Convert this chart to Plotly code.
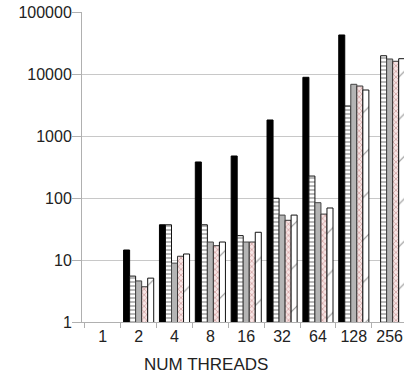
import plotly.graph_objects as go

categories = ["1", "2", "4", "8", "16", "32", "64", "128", "256"]
series_black = [None, 14.5, 37, 381, 476, 1812, 8850, 42600, None]
series_hstripe = [None, 5.5, 37, 37, 24.7, 99, 226, 3050, 19700]
series_gray = [None, 4.6, 8.9, 19.5, 19.5, 53, 84, 6820, 17460]
series_cross = [None, 3.7, 11.5, 17, 19.5, 43.7, 55, 6400, 16030]
series_diag = [None, 5.1, 12.5, 19.5, 28, 53, 69, 5520, 17660]
y_ticks = [1, 10, 100, 1000, 10000, 100000]
y_tick_labels = ["1", "10", "100", "1000", "10000", "100000"]

fig = go.Figure()
fig.add_trace(go.Bar(x=categories, y=series_black, name="A",
                     marker=dict(color="#000000", line=dict(color="#000000", width=1))))
fig.add_trace(go.Bar(x=categories, y=series_hstripe, name="B",
                     marker=dict(color="#ffffff", line=dict(color="#111111", width=1),
                                 pattern=dict(shape="-", fgcolor="#111111", bgcolor="#ffffff",
                                              size=4, solidity=0.3))))
fig.add_trace(go.Bar(x=categories, y=series_gray, name="C",
                     marker=dict(color="#b4b4b4", line=dict(color="#444444", width=1))))
fig.add_trace(go.Bar(x=categories, y=series_cross, name="D",
                     marker=dict(color="#f6e4e4", line=dict(color="#333333", width=1),
                                 pattern=dict(shape="x", fgcolor="#a04848", bgcolor="#f6e4e4",
                                              size=4, solidity=0.3))))
fig.add_trace(go.Bar(x=categories, y=series_diag, name="E",
                     marker=dict(color="#ffffff", line=dict(color="#111111", width=1),
                                 pattern=dict(shape="/", fgcolor="#333333", bgcolor="#ffffff",
                                              size=30, solidity=0.04))))

fig.update_layout(
    width=404, height=379,
    margin=dict(l=82, r=0, t=12, b=57, autoexpand=False),
    paper_bgcolor="white", plot_bgcolor="white",
    barmode="group", bargap=0.16, bargroupgap=0,
    showlegend=False,
    font=dict(family="Liberation Sans, Arial, sans-serif", color="#222222"),
    xaxis=dict(type="category", categoryorder="array", categoryarray=categories,
               range=[-0.58, 8.4], tickson="boundaries", ticks="outside", ticklen=5,
               tickcolor="#b0b0b0", showline=True, linecolor="#b0b0b0", linewidth=1,
               showgrid=False, automargin=False, tickfont=dict(size=16, color="#222222")),
    yaxis=dict(type="log", range=[0, 5], tickvals=y_ticks, ticktext=y_tick_labels,
               ticks="outside", ticklen=9, tickcolor="#b0b0b0", showline=True,
               linecolor="#b0b0b0", linewidth=1, showgrid=True, gridcolor="#c8c8c8",
               gridwidth=1, zeroline=False, automargin=False, ticklabelstandoff=-3,
               tickfont=dict(size=16, color="#222222")),
    annotations=[dict(text="NUM THREADS", xref="paper", yref="paper", x=0.385, y=-0.138,
                      xanchor="center", yanchor="middle", showarrow=False,
                      font=dict(size=17, color="#222222"))],
)

fig.write_html("out.html", config={"displayModeBar": False},
               post_script="document.body.style.margin='0';document.body.style.padding='0';"
                           "document.body.style.overflow='hidden';"
                           "document.documentElement.style.overflow='hidden';")
